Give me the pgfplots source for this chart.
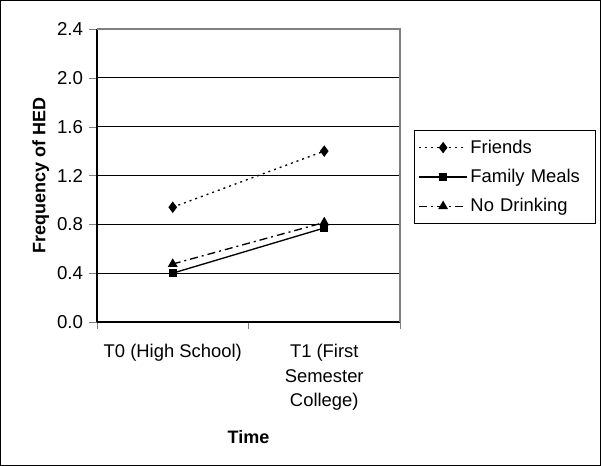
\documentclass[border=0pt]{standalone}
\usepackage{fontspec}
\setmainfont{Liberation Sans}
\usepackage{pgfplots}
\pgfplotsset{compat=1.18}
\begin{document}
\begin{tikzpicture}
% outer frame of the chart area (601 x 466 px at 0.75pt per px)
\draw[black,line width=1pt] (0.5pt,0.5pt) rectangle (450.25pt,349pt);
\begin{axis}[
    at={(72.75pt,108pt)}, anchor=south west,
    scale only axis,
    width=227.25pt, height=219.75pt,
    xmin=-0.5, xmax=1.5,
    ymin=0, ymax=2.4,
    ytick={0,0.4,...,2.4},
    yticklabel style={font=\fontsize{14}{16}\selectfont,xshift=-1pt},
    /pgf/number format/fixed,
    /pgf/number format/fixed zerofill,
    /pgf/number format/precision=1,
    /pgf/number format/assume math mode=true,
    xtick={0,1},
    xticklabels={T0 (High School),{T1 (First\\Semester\\College)}},
    xticklabel style={align=center,font=\fontsize{13.8}{18.5}\selectfont,yshift=-7pt},
    minor xtick={-0.5,0.5,1.5},
    major x tick style={draw=none},
    minor tick length=5pt,
    major tick length=6pt,
    tick align=outside,
    axis x line*=bottom, axis y line*=left,
    axis line style={black,line width=0.8pt,-},
    ymajorgrids, major grid style={black,line width=0.7pt},
    xlabel={Time},
    ylabel={Frequency of HED},
    label style={font=\fontsize{13.5}{16}\selectfont\bfseries},
    xlabel style={yshift=-8pt},
    ylabel style={yshift=-1pt},
    legend style={at={(1.046,0.655)},anchor=north west,draw=black,line width=0.8pt,
        font=\fontsize{13.8}{16}\selectfont,row sep=6.5pt,inner xsep=3pt,inner ysep=5pt,
        text width=89pt},
    legend image code/.code={\draw[mark repeat=2,mark phase=2] plot coordinates {(0pt,0pt) (18pt,0pt) (36pt,0pt)};},
    legend cell align=left,
    clip=false,
]
\draw[gray,line width=0.8pt] (axis description cs:0,1) -- (axis description cs:1,1) -- (axis description cs:1,0);
\addplot[black,dash pattern=on 1.5pt off 3pt,line width=1pt,mark=diamond*,mark size=3.5pt,mark options={solid}]
    coordinates {(0,0.94) (1,1.40)};
\addlegendentry{Friends}
\addplot[black,solid,line width=1pt,mark=square*,mark size=2.6pt,mark options={solid}]
    coordinates {(0,0.40) (1,0.77)};
\addlegendentry{Family Meals}
\addplot[black,dash pattern=on 6pt off 3pt on 1.5pt off 3pt,line width=1pt,mark=triangle*,mark size=3.3pt,mark options={solid}]
    coordinates {(0,0.475) (1,0.815)};
\addlegendentry{No Drinking}
\end{axis}
\end{tikzpicture}
\end{document}
